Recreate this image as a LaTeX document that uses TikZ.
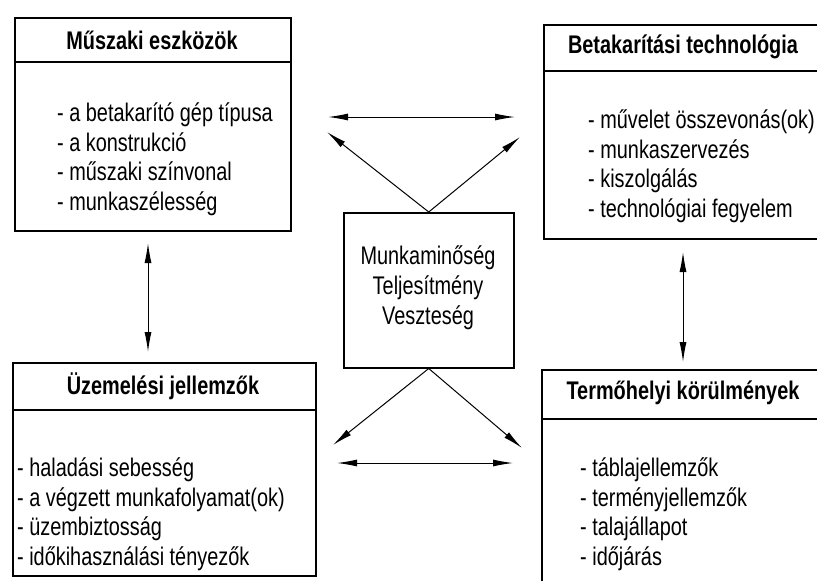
\documentclass[tikz,border=0pt]{standalone}
\usepackage{fontspec}
\setmainfont{Liberation Sans}[FakeStretch=0.78]
\usetikzlibrary{arrows.meta,positioning}
\tikzset{
  keret/.style={draw, line width=1.5pt, inner sep=0pt, anchor=north west},
  cim/.style={font=\fontsize{25.5}{29}\selectfont\bfseries, inner sep=0pt},
  lista/.style={font=\fontsize{25.5}{29.5}\selectfont, align=left, inner sep=0pt, anchor=north west},
  kozepszoveg/.style={font=\fontsize{25.5}{30}\selectfont, align=center, inner sep=0pt},
  nyil/.style={line width=1pt, {Latex[length=20pt,width=7pt]}-{Latex[length=20pt,width=7pt]}},
  egynyil/.style={line width=1pt, -{Latex[length=20pt,width=7pt]}}
}
\begin{document}
\begin{tikzpicture}[x=1pt,y=-1pt]
\useasboundingbox (0,0) rectangle (817,581);
\clip (0,0) rectangle (817,581);
% Muszaki eszkozok
\node[keret, minimum width=276pt, minimum height=213pt] (muszaki) at (14,17) {};
\draw[line width=1.5pt] (14,62) -- (290,62);
\node[cim] (muszakiCim) at (152,40) {Műszaki eszközök};
\node[lista] (muszakiLista) at (57,103) {- a betakarító gép típusa\\- a konstrukció\\- műszaki színvonal\\- munkaszélesség};
% Betakaritasi technologia
\node[keret, minimum width=282pt, minimum height=214pt] (technologia) at (543,24) {};
\draw[line width=1.5pt] (543,71) -- (825,71);
\node[cim] (technologiaCim) at (683,47) {Betakarítási technológia};
\node[lista] (technologiaLista) at (588,110) {- művelet összevonás(ok)\\- munkaszervezés\\- kiszolgálás\\- technológiai fegyelem};
% Uzemelesi jellemzok
\node[keret, minimum width=303pt, minimum height=213pt] (uzemeles) at (12,362) {};
\draw[line width=1.5pt] (12,410) -- (315,410);
\node[cim] (uzemelesCim) at (163,386) {Üzemelési jellemzők};
\node[lista] (uzemelesLista) at (17,458) {- haladási sebesség\\- a végzett munkafolyamat(ok)\\- üzembiztosság\\- időkihasználási tényezők};
% Termohelyi korulmenyek
\node[keret, minimum width=284pt, minimum height=225pt] (termohely) at (541,369) {};
\draw[line width=1.5pt] (541,419) -- (825,419);
\node[cim] (termohelyCim) at (683,393) {Termőhelyi körülmények};
\node[lista] (termohelyLista) at (580,458) {- táblajellemzők\\- terményjellemzők\\- talajállapot\\- időjárás};
% kozep
\node[keret, minimum width=170pt, minimum height=155pt] (kozep) at (343,212) {};
\node[kozepszoveg] (kozepSzoveg) at (428,288) {Munkaminőség\\Teljesítmény\\Veszteség};
% nyilak
\coordinate (fentBal) at (328,117);
\coordinate (fentJobb) at (515,117);
\coordinate (atloBF) at (327,132);
\coordinate (atloJF) at (520,137);
\coordinate (atloBL) at (333,445);
\coordinate (atloJL) at (522,448);
\coordinate (lentBal) at (337,463);
\coordinate (lentJobb) at (513,463);
\coordinate (balF) at (148,243);
\coordinate (balL) at (148,352);
\coordinate (jobbF) at (683,252);
\coordinate (jobbL) at (683,362);
\draw[nyil] (fentBal) -- (fentJobb);
\draw[nyil] (lentBal) -- (lentJobb);
\draw[nyil] (balF) -- (balL);
\draw[nyil] (jobbF) -- (jobbL);
\draw[egynyil] (kozep.north) -- (atloBF);
\draw[egynyil] (kozep.north) -- (atloJF);
\draw[egynyil] (kozep.south) -- (atloBL);
\draw[egynyil] (kozep.south) -- (atloJL);
\end{tikzpicture}
\end{document}
